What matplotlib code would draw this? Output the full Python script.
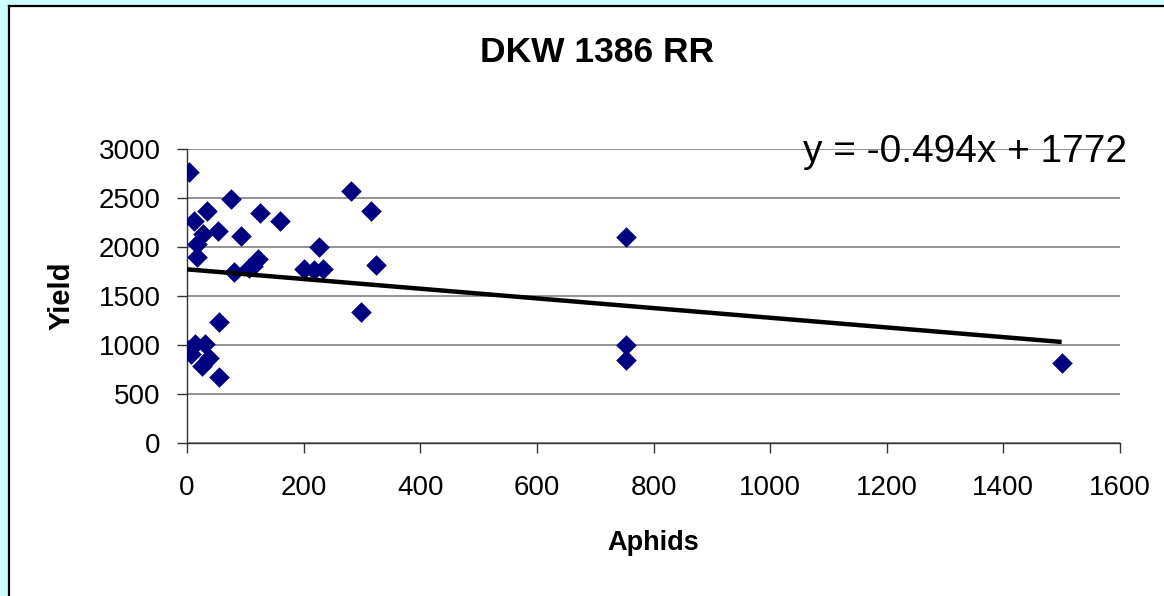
import matplotlib
matplotlib.use("Agg")
import matplotlib.pyplot as plt
from matplotlib.patches import Rectangle
from matplotlib.lines import Line2D

plt.rcParams["font.family"] = ["Liberation Sans", "DejaVu Sans"]

# data
aphids = [4, 75, 12, 34, 126, 160, 54, 28, 93, 18, 17, 122, 114, 106, 80,
          226, 201, 218, 234, 281, 315, 324, 298, 752, 752, 752, 1500,
          55, 13, 31, 2, 7, 37, 25, 55]
yield_ = [2770, 2493, 2268, 2370, 2343, 2268, 2160, 2128, 2114, 2031, 1895,
          1876, 1810, 1782, 1742, 1995, 1774, 1762, 1774, 2574, 2370, 1816,
          1340, 2099, 1000, 847, 820, 1232, 1010, 1010, 949, 905, 864, 790, 670]

slope = -0.494
intercept = 1772
title = "DKW 1386 RR"
x_ticks = [0, 200, 400, 600, 800, 1000, 1200, 1400, 1600]
y_ticks = [0, 500, 1000, 1500, 2000, 2500, 3000]

W, H = 1164, 596
fig = plt.figure(figsize=(W / 100, H / 100), dpi=100)
fig.patch.set_facecolor("white")

# cyan frame strip on the top and left, with the black chart border
fig.patches.append(Rectangle((0, 1 - 5 / H), 1, 5 / H, transform=fig.transFigure,
                             facecolor="#CCFFFF", edgecolor="none", zorder=0))
fig.patches.append(Rectangle((0, 0), 8 / W, 1, transform=fig.transFigure,
                             facecolor="#CCFFFF", edgecolor="none", zorder=0))
fig.lines.append(Line2D([8.5 / W, 1], [1 - 6 / H, 1 - 6 / H], transform=fig.transFigure,
                        color="black", linewidth=1.6))
fig.lines.append(Line2D([9 / W, 9 / W], [0, 1 - 6 / H], transform=fig.transFigure,
                        color="black", linewidth=1.6))

ax = fig.add_axes([187 / W, 1 - 443 / H, (1120 - 187) / W, (443 - 149) / H])
ax.set_facecolor("white")

ax.scatter(aphids, yield_, marker="D", s=110, color="#000080", linewidths=0, zorder=3)

x_fit = [0, max(aphids)]
y_fit = [slope * v + intercept for v in x_fit]
ax.plot(x_fit, y_fit, color="black", linewidth=3.2, zorder=4, solid_capstyle="butt")

ax.set_xlim(0, 1600)
ax.set_ylim(0, 3000)
ax.set_xticks(x_ticks)
ax.set_yticks(y_ticks)
ax.yaxis.grid(True, color="#808080", linewidth=1.2)
ax.set_axisbelow(True)

for side in ("top", "right"):
    ax.spines[side].set_visible(False)
for side in ("left", "bottom"):
    ax.spines[side].set_color("#333333")
    ax.spines[side].set_linewidth(1)

ax.tick_params(axis="y", direction="out", length=7, width=1, pad=12,
               labelsize=20, colors="#333333", labelcolor="black")
ax.tick_params(axis="x", direction="out", length=7, width=1, pad=16,
               labelsize=20, colors="#333333", labelcolor="black")

ax.set_xlabel("Aphids", fontsize=19.5, fontweight="bold")
ax.xaxis.set_label_coords(0.5, (443 - 543) / (443 - 149))
ax.xaxis.label.set_va("center")
ax.set_ylabel("Yield", fontsize=21, fontweight="bold")
ax.yaxis.set_label_coords((62 - 187) / (1120 - 187), 0.5)
ax.yaxis.label.set_va("center")

ax.text(1.0075, (443 - 152) / (443 - 149), f"y = {slope}x + {intercept}",
        transform=ax.transAxes, ha="right", va="center", fontsize=28)

fig.text(597 / W, 1 - 52 / H, title, ha="center", va="center",
         fontsize=25.5, fontweight="bold")

fig.savefig("out.png", dpi=100)
